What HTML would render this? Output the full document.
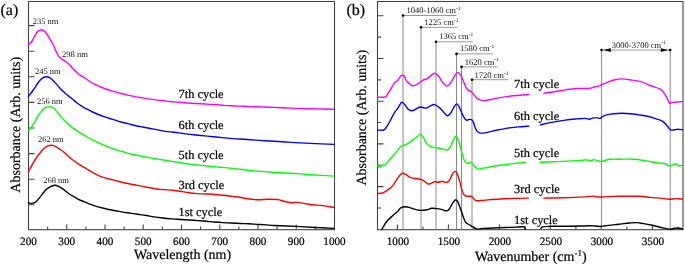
<!DOCTYPE html>
<html><head><meta charset="utf-8"><style>
html,body{margin:0;padding:0;background:#fff;}
body{width:685px;height:265px;overflow:hidden;}
svg{display:block;will-change:transform;}
text{font-family:"Liberation Serif",serif;fill:#000;stroke:#000;stroke-width:0.2px;text-rendering:geometricPrecision;}
text.s{stroke:none;fill:#111;}
</style></head><body>
<svg width="685" height="265" viewBox="0 0 685 265">
<rect width="685" height="265" fill="#fff"/>
<rect x="28.5" y="1.5" width="306" height="228.2" fill="none" stroke="#444" stroke-width="1.1"/>
<path d="M47.62 229.5V226.5M66.75 229.5V224.5M85.88 229.5V226.5M105 229.5V224.5M124.12 229.5V226.5M143.25 229.5V224.5M162.38 229.5V226.5M181.5 229.5V224.5M200.62 229.5V226.5M219.75 229.5V224.5M238.88 229.5V226.5M258 229.5V224.5M277.12 229.5V226.5M296.25 229.5V224.5M315.38 229.5V226.5M28.5 25.6H34.5M28.5 51.2H34.5M28.5 76.8H34.5M28.5 102.4H34.5M28.5 128H34.5M28.5 153.6H34.5M28.5 179.2H34.5M28.5 204.8H34.5" stroke="#444" stroke-width="1.1" fill="none"/>
<rect x="377.5" y="1.5" width="305.5" height="228.2" fill="none" stroke="#444" stroke-width="1.1"/>
<path d="M397.4 229.5V224.5M422.9 229.5V226.5M448.4 229.5V224.5M473.9 229.5V226.5M499.4 229.5V224.5M524.9 229.5V226.5M550.4 229.5V224.5M575.9 229.5V226.5M601.4 229.5V224.5M626.9 229.5V226.5M652.4 229.5V224.5M677.9 229.5V226.5M377.5 15.8H383.5M377.5 37.15H381M377.5 58.5H383.5M377.5 79.85H381M377.5 101.2H383.5M377.5 122.55H381M377.5 143.9H383.5M377.5 165.25H381M377.5 186.6H383.5M377.5 207.95H381" stroke="#444" stroke-width="1.1" fill="none"/>
<path d="M403 15.5V229" stroke="#8a8a8a" stroke-width="1" fill="none"/>
<path d="M403 15.5H456.5" stroke="#999" stroke-width="1" fill="none"/>
<circle cx="403" cy="15.5" r="1.3" fill="#000"/>
<path d="M421 27.3V229" stroke="#8a8a8a" stroke-width="1" fill="none"/>
<path d="M421 27.3H457.5" stroke="#999" stroke-width="1" fill="none"/>
<circle cx="421" cy="27.3" r="1.3" fill="#000"/>
<path d="M436 41.8V229" stroke="#8a8a8a" stroke-width="1" fill="none"/>
<path d="M436 41.8H473" stroke="#999" stroke-width="1" fill="none"/>
<circle cx="436" cy="41.8" r="1.3" fill="#000"/>
<path d="M456.5 53.9V229" stroke="#8a8a8a" stroke-width="1" fill="none"/>
<path d="M456.5 53.9H493" stroke="#999" stroke-width="1" fill="none"/>
<circle cx="456.5" cy="53.9" r="1.3" fill="#000"/>
<path d="M461.5 66.9V229" stroke="#8a8a8a" stroke-width="1" fill="none"/>
<path d="M461.5 66.9H497.5" stroke="#999" stroke-width="1" fill="none"/>
<circle cx="461.5" cy="66.9" r="1.3" fill="#000"/>
<path d="M472 79.7V229" stroke="#8a8a8a" stroke-width="1" fill="none"/>
<path d="M472 79.7H508" stroke="#999" stroke-width="1" fill="none"/>
<circle cx="472" cy="79.7" r="1.3" fill="#000"/>
<path d="M601.6 50.1V229" stroke="#8a8a8a" stroke-width="1" fill="none"/>
<circle cx="601.6" cy="50.1" r="1.3" fill="#000"/>
<path d="M670.2 50.1V229" stroke="#8a8a8a" stroke-width="1" fill="none"/>
<circle cx="670.2" cy="50.1" r="1.3" fill="#000"/>
<path d="M603 50.1H669" stroke="#999" stroke-width="1" fill="none"/>
<path d="M603.3 50.1L610.8 48.2L610.8 52Z" fill="#000"/>
<path d="M668.3 50.1L660.8 48.2L660.8 52Z" fill="#000"/>
<path d="M28.5 44.5C29.05 44 30.78 42.87 31.8 41.5C32.82 40.13 33.67 37.92 34.6 36.3C35.53 34.68 36.45 32.85 37.4 31.8C38.35 30.75 39.62 30.33 40.3 30C40.98 29.67 40.88 29.65 41.5 29.8C42.12 29.95 43.1 30.2 44 30.9C44.9 31.6 45.95 32.68 46.9 34C47.85 35.32 48.93 37.5 49.7 38.8C50.47 40.1 50.82 40.6 51.5 41.8C52.18 43 53.05 44.42 53.8 46C54.55 47.58 55.25 49.7 56 51.3C56.75 52.9 57.42 54.37 58.3 55.6C59.18 56.83 60.17 57.78 61.3 58.7C62.43 59.62 63.83 60.22 65.1 61.1C66.37 61.98 67.65 62.8 68.9 64C70.15 65.2 71.23 66.85 72.6 68.3C73.97 69.75 75.67 71.43 77.1 72.7C78.53 73.97 79.77 74.93 81.2 75.9C82.63 76.87 84.02 77.4 85.7 78.5C87.38 79.6 89.42 81.37 91.3 82.5C93.18 83.63 95.12 84.43 97 85.3C98.88 86.17 100.72 86.98 102.6 87.73C104.48 88.47 106.4 89.12 108.3 89.75C110.2 90.38 112.05 90.91 114 91.5C115.95 92.09 117.73 92.68 120 93.27C122.27 93.87 125.08 94.52 127.6 95.08C130.12 95.63 132.58 96.13 135.1 96.6C137.62 97.07 140.18 97.46 142.7 97.88C145.22 98.29 147.68 98.7 150.2 99.07C152.72 99.45 155.28 99.8 157.8 100.1C160.32 100.4 163.27 100.62 165.3 100.85C167.33 101.08 167.75 101.26 170 101.5C172.25 101.74 175.88 102.04 178.8 102.3C181.72 102.56 184.58 102.84 187.5 103.05C190.42 103.26 193.38 103.41 196.3 103.57C199.22 103.74 202.08 103.88 205 104.05C207.92 104.23 210.88 104.43 213.8 104.62C216.72 104.82 219.8 105.05 222.5 105.22C225.2 105.4 227.28 105.55 230 105.7C232.72 105.85 235.88 105.97 238.8 106.1C241.72 106.23 244.58 106.36 247.5 106.48C250.42 106.59 253.38 106.68 256.3 106.78C259.22 106.87 262.08 106.95 265 107.05C267.92 107.15 270.88 107.28 273.8 107.4C276.72 107.52 279.8 107.65 282.5 107.78C285.2 107.9 287.08 108 290 108.12C292.92 108.25 295.5 108.37 300 108.5C304.5 108.63 311.33 108.77 317 108.9C322.67 109.03 331.17 109.23 334 109.3" fill="none" stroke="#ff00ff" stroke-width="1.4" stroke-linejoin="round" stroke-linecap="round"/>
<path d="M28.5 96.4C29.3 95.33 31.62 92.4 33.3 90C34.98 87.6 37.02 84.03 38.6 82C40.18 79.97 41.4 78.67 42.8 77.8C44.2 76.93 45.8 76.8 47 76.8C48.2 76.8 48.93 77.15 50 77.8C51.07 78.45 52.27 79.57 53.4 80.7C54.53 81.83 55.67 83.32 56.8 84.6C57.93 85.88 59.07 87.2 60.2 88.4C61.33 89.6 62.47 90.73 63.6 91.8C64.73 92.87 65.9 93.88 67 94.8C68.1 95.72 69.07 96.38 70.2 97.3C71.33 98.22 72.63 99.35 73.8 100.3C74.97 101.25 75.95 102.08 77.2 103C78.45 103.92 79.67 104.77 81.3 105.8C82.93 106.83 85.12 108.17 87 109.2C88.88 110.23 90.72 111.12 92.6 112C94.48 112.88 96.4 113.73 98.3 114.5C100.2 115.27 102.12 115.96 104 116.62C105.88 117.29 107.72 117.92 109.6 118.5C111.48 119.08 113.57 119.58 115.3 120.12C117.03 120.67 117.95 121.19 120 121.78C122.05 122.36 125.08 123.01 127.6 123.62C130.12 124.24 132.58 124.9 135.1 125.47C137.62 126.05 140.18 126.55 142.7 127.05C145.22 127.55 147.68 128 150.2 128.47C152.72 128.95 155.28 129.42 157.8 129.9C160.32 130.38 161.8 130.88 165.3 131.38C168.8 131.88 175.1 132.44 178.8 132.9C182.5 133.36 184.58 133.79 187.5 134.15C190.42 134.51 193.38 134.76 196.3 135.05C199.22 135.34 202.08 135.59 205 135.88C207.92 136.16 210.88 136.49 213.8 136.78C216.72 137.06 219.8 137.33 222.5 137.6C225.2 137.87 225.83 138.08 230 138.4C234.17 138.72 241.67 139.11 247.5 139.5C253.33 139.89 259.17 140.35 265 140.73C270.83 141.1 276.67 141.41 282.5 141.78C288.33 142.14 291.42 142.46 300 142.9C308.58 143.34 328.33 144.15 334 144.4" fill="none" stroke="#0000ff" stroke-width="1.4" stroke-linejoin="round" stroke-linecap="round"/>
<path d="M28.5 130.8C28.98 130.18 30.35 128.6 31.4 127.1C32.45 125.6 33.67 123.72 34.8 121.8C35.93 119.88 37.07 117.38 38.2 115.6C39.33 113.82 40.47 112.38 41.6 111.1C42.73 109.82 43.68 108.65 45 107.9C46.32 107.15 48.18 106.67 49.5 106.6C50.82 106.53 51.98 107 52.9 107.5C53.82 108 53.98 108.48 55 109.6C56.02 110.72 57.68 112.65 59 114.2C60.32 115.75 61.58 117.47 62.9 118.9C64.22 120.33 65.57 121.55 66.9 122.8C68.23 124.05 69.58 125.3 70.9 126.4C72.22 127.5 73.48 128.45 74.8 129.4C76.12 130.35 77.48 131.28 78.8 132.1C80.12 132.92 81.38 133.53 82.7 134.3C84.02 135.07 85.4 135.95 86.7 136.7C88 137.45 89 138.03 90.5 138.8C92 139.57 93.9 140.43 95.7 141.3C97.5 142.17 99.42 143.17 101.3 144.03C103.18 144.88 105.12 145.67 107 146.43C108.88 147.18 110.72 147.89 112.6 148.55C114.48 149.21 116.4 149.82 118.3 150.4C120.2 150.98 122.05 151.48 124 152.03C125.95 152.57 127.53 153.11 130 153.7C132.47 154.29 135.88 154.97 138.8 155.57C141.72 156.18 144.58 156.8 147.5 157.35C150.42 157.9 153.38 158.39 156.3 158.88C159.22 159.36 162.08 159.81 165 160.28C167.92 160.74 170.88 161.2 173.8 161.65C176.72 162.1 179.8 162.58 182.5 163C185.2 163.42 187.28 163.81 190 164.18C192.72 164.54 195.88 164.86 198.8 165.17C201.72 165.49 204.58 165.79 207.5 166.07C210.42 166.36 213.38 166.61 216.3 166.88C219.22 167.14 222.08 167.37 225 167.65C227.92 167.93 230.88 168.23 233.8 168.55C236.72 168.87 239.8 169.23 242.5 169.55C245.2 169.87 247.28 170.19 250 170.48C252.72 170.76 255.88 171.01 258.8 171.25C261.72 171.49 264.58 171.69 267.5 171.9C270.42 172.11 273.38 172.31 276.3 172.5C279.22 172.69 282.08 172.88 285 173.05C287.92 173.22 290.88 173.35 293.8 173.5C296.72 173.65 299.8 173.72 302.5 173.92C305.2 174.12 304.75 174.34 310 174.7C315.25 175.06 330 175.87 334 176.1" fill="none" stroke="#00ff00" stroke-width="1.4" stroke-linejoin="round" stroke-linecap="round"/>
<path d="M28.5 172C29.08 170.85 30.77 167.35 32 165.1C33.23 162.85 34.58 160.48 35.9 158.5C37.22 156.52 38.57 154.85 39.9 153.2C41.23 151.55 42.58 149.82 43.9 148.6C45.22 147.38 46.48 146.45 47.8 145.9C49.12 145.35 50.48 145.18 51.8 145.3C53.12 145.42 54.38 145.95 55.7 146.6C57.02 147.25 58.32 148.25 59.7 149.2C61.08 150.15 62.68 151.23 64 152.3C65.32 153.37 66.35 154.48 67.6 155.6C68.85 156.72 69.58 157.55 71.5 159C73.42 160.45 76.58 162.65 79.1 164.3C81.62 165.95 84.08 167.38 86.6 168.9C89.12 170.42 91.68 172.08 94.2 173.4C96.72 174.72 99.2 175.87 101.7 176.8C104.2 177.73 106.68 178.32 109.2 179C111.72 179.68 115 180.45 116.8 180.9C118.6 181.35 118 181.23 120 181.7C122 182.17 125.88 183.08 128.8 183.7C131.72 184.32 134.58 184.82 137.5 185.4C140.42 185.98 143.38 186.65 146.3 187.2C149.22 187.75 152.08 188.3 155 188.7C157.92 189.1 160.88 189.35 163.8 189.6C166.72 189.85 169.8 189.93 172.5 190.2C175.2 190.47 177.28 190.78 180 191.2C182.72 191.62 185.88 192.3 188.8 192.7C191.72 193.1 194.58 193.38 197.5 193.6C200.42 193.82 203.38 193.85 206.3 194C209.22 194.15 212.08 194.28 215 194.5C217.92 194.72 220.88 194.98 223.8 195.3C226.72 195.62 229.8 196.07 232.5 196.4C235.2 196.73 237.93 196.98 240 197.3C242.07 197.62 242.02 197.9 244.9 198.3C247.78 198.7 253.47 199.55 257.3 199.7C261.13 199.85 264.5 199.23 267.9 199.2C271.3 199.17 275.03 199.15 277.7 199.5C280.37 199.85 281.68 200.77 283.9 201.3C286.12 201.83 288.65 202.52 291 202.7C293.35 202.88 295.65 202.25 298 202.4C300.35 202.55 302.43 203.17 305.1 203.6C307.77 204.03 311.33 204.7 314 205C316.67 205.3 317.77 204.98 321.1 205.4C324.43 205.82 331.85 207.15 334 207.5" fill="none" stroke="#ff0000" stroke-width="1.4" stroke-linejoin="round" stroke-linecap="round"/>
<path d="M28.5 202.3C28.8 202.52 29.53 203.45 30.3 203.6C31.07 203.75 32.17 203.52 33.1 203.2C34.03 202.88 34.87 202.55 35.9 201.7C36.93 200.85 38.17 199.45 39.3 198.1C40.43 196.75 41.57 195.02 42.7 193.6C43.83 192.18 44.87 190.73 46.1 189.6C47.33 188.47 48.68 187.52 50.1 186.8C51.52 186.08 53.18 185.38 54.6 185.3C56.02 185.22 57.18 185.67 58.6 186.3C60.02 186.93 61.37 187.85 63.1 189.1C64.83 190.35 67.18 192.53 69 193.8C70.82 195.07 72.33 195.73 74 196.7C75.67 197.67 77.33 198.77 79 199.6C80.67 200.43 82.35 201 84 201.7C85.65 202.4 87.23 203.15 88.9 203.8C90.57 204.45 91.68 204.9 94 205.6C96.32 206.3 99.88 207.25 102.8 207.97C105.72 208.7 108.58 209.38 111.5 209.97C114.42 210.57 117.38 211.08 120.3 211.57C123.22 212.07 126.08 212.51 129 212.95C131.92 213.39 134.88 213.79 137.8 214.22C140.72 214.66 143.8 215.1 146.5 215.55C149.2 216 151.28 216.49 154 216.9C156.72 217.31 159.88 217.7 162.8 218.03C165.72 218.35 168.58 218.61 171.5 218.85C174.42 219.09 177.38 219.26 180.3 219.45C183.22 219.64 186.08 219.8 189 220C191.92 220.2 194.88 220.41 197.8 220.62C200.72 220.84 203.8 221.05 206.5 221.27C209.2 221.5 211.28 221.75 214 221.98C216.72 222.2 219.88 222.44 222.8 222.62C225.72 222.81 228.58 222.94 231.5 223.07C234.42 223.21 237.38 223.3 240.3 223.43C243.22 223.55 246.08 223.67 249 223.82C251.92 223.98 254.88 224.17 257.8 224.35C260.72 224.53 263.8 224.73 266.5 224.92C269.2 225.12 269.03 225.28 274 225.52C278.97 225.77 289.33 226.07 296.3 226.4C303.27 226.73 309.52 227.14 315.8 227.47C322.08 227.81 330.97 228.25 334 228.4" fill="none" stroke="#000000" stroke-width="1.4" stroke-linejoin="round" stroke-linecap="round"/>
<path d="M377.5 97C378.8 97 383.57 97.6 385.3 97C387.03 96.4 387.02 94.67 387.9 93.4C388.78 92.13 389.72 90.83 390.6 89.4C391.48 87.97 392.43 86 393.2 84.8C393.97 83.6 394.53 82.82 395.2 82.2C395.87 81.58 396.53 81.77 397.2 81.1C397.87 80.43 398.55 79.12 399.2 78.2C399.85 77.28 400.45 76.07 401.1 75.6C401.75 75.13 402.55 75.3 403.1 75.4C403.65 75.5 403.85 75.28 404.4 76.2C404.95 77.12 405.62 79.68 406.4 80.9C407.18 82.12 408.1 82.7 409.1 83.5C410.1 84.3 411.3 85.43 412.4 85.7C413.5 85.97 414.5 85.62 415.7 85.1C416.9 84.58 418.38 83.43 419.6 82.6C420.82 81.77 421.8 80.72 423 80.1C424.2 79.48 425.53 79.6 426.8 78.9C428.07 78.2 429.35 76.83 430.6 75.9C431.85 74.97 433.05 73.35 434.3 73.3C435.55 73.25 437.15 74.78 438.1 75.6C439.05 76.42 439.13 76.93 440 78.2C440.87 79.47 442.08 81.88 443.3 83.2C444.52 84.52 446.08 86.1 447.3 86.1C448.52 86.1 449.5 84.68 450.6 83.2C451.7 81.72 452.92 78.85 453.9 77.2C454.88 75.55 455.73 74.02 456.5 73.3C457.27 72.58 457.83 72.68 458.5 72.9C459.17 73.12 459.73 73.33 460.5 74.6C461.27 75.87 462.22 78.42 463.1 80.5C463.98 82.58 464.92 85.45 465.8 87.1C466.68 88.75 467.53 89.68 468.4 90.4C469.27 91.12 470.23 90.85 471 91.4C471.77 91.95 472.33 92.92 473 93.7C473.67 94.48 474.15 95.18 475 96.1C475.85 97.02 476.67 98.45 478.1 99.2C479.53 99.95 481.27 100.6 483.6 100.6C485.93 100.6 489.12 99.73 492.1 99.2C495.08 98.67 498.35 97.93 501.5 97.4C504.65 96.87 506.45 96.48 511 96C515.55 95.52 525.83 94.75 528.8 94.5" fill="none" stroke="#ff00ff" stroke-width="1.4" stroke-linejoin="round" stroke-linecap="round"/>
<path d="M543.9 93.3C546.58 92.88 555.73 91.47 560 90.8C564.27 90.13 566.35 89.7 569.5 89.3C572.65 88.9 575.6 88.55 578.9 88.4C582.2 88.25 586.78 88.63 589.3 88.4C591.82 88.17 592.42 87.38 594 87C595.58 86.62 597.8 86.33 598.8 86.1C599.8 85.87 599.53 85.85 600 85.6C600.47 85.35 600.38 85.15 601.6 84.6C602.82 84.05 605.1 83.1 607.3 82.3C609.5 81.5 612.28 80.37 614.8 79.8C617.32 79.23 619.95 78.9 622.4 78.9C624.85 78.9 626.43 79.33 629.5 79.8C632.57 80.27 637.35 80.75 640.8 81.7C644.25 82.65 646.9 84.23 650.2 85.5C653.5 86.77 658.07 87.72 660.6 89.3C663.13 90.88 663.92 92.72 665.4 95C666.88 97.28 668.4 101.75 669.5 103C670.6 104.25 669.83 102.73 672 102.5C674.17 102.27 680.75 101.75 682.5 101.6" fill="none" stroke="#ff00ff" stroke-width="1.4" stroke-linejoin="round" stroke-linecap="round"/>
<path d="M377.5 130C378.55 130 382.25 130.55 383.8 130C385.35 129.45 385.67 128.38 386.8 126.7C387.93 125.02 389.35 122.22 390.6 119.9C391.85 117.58 393.05 114.82 394.3 112.8C395.55 110.78 396.97 109.47 398.1 107.8C399.23 106.13 400.35 103.68 401.1 102.8C401.85 101.92 401.97 102.17 402.6 102.5C403.23 102.83 404.02 103.73 404.9 104.8C405.78 105.87 406.77 107.9 407.9 108.9C409.03 109.9 410.43 110.73 411.7 110.8C412.97 110.87 414.12 109.93 415.5 109.3C416.88 108.67 418.55 107.23 420 107C421.45 106.77 423.03 107.73 424.2 107.9C425.37 108.07 425.9 108.38 427 108C428.1 107.62 429.55 106.17 430.8 105.6C432.05 105.03 433.08 104.28 434.5 104.6C435.92 104.92 437.72 106.18 439.3 107.5C440.88 108.82 442.67 111.12 444 112.5C445.33 113.88 446.2 115.68 447.3 115.8C448.4 115.92 449.5 114.63 450.6 113.2C451.7 111.77 452.92 108.75 453.9 107.2C454.88 105.65 455.73 104.15 456.5 103.9C457.27 103.65 457.73 104.48 458.5 105.7C459.27 106.92 460.22 109.28 461.1 111.2C461.98 113.12 462.92 115.7 463.8 117.2C464.68 118.7 465.52 119.83 466.4 120.2C467.28 120.57 468.22 119.47 469.1 119.4C469.98 119.33 470.93 119.18 471.7 119.8C472.47 120.42 473.12 121.78 473.7 123.1C474.28 124.42 474.68 126.42 475.2 127.7C475.72 128.98 476.17 129.98 476.8 130.8C477.43 131.62 477.87 132.22 479 132.6C480.13 132.98 481.33 133.35 483.6 133.1C485.87 132.85 488.58 131.93 492.6 131.1C496.62 130.27 503.42 128.8 507.7 128.1C511.98 127.4 514.78 127.23 518.3 126.9C521.82 126.57 527.05 126.23 528.8 126.1" fill="none" stroke="#0000ff" stroke-width="1.4" stroke-linejoin="round" stroke-linecap="round"/>
<path d="M540.3 124.9C541.93 124.52 545.95 123.4 550.1 122.6C554.25 121.8 560.68 120.72 565.2 120.1C569.72 119.48 573.93 119.18 577.2 118.9C580.47 118.62 582.78 118.35 584.8 118.4C586.82 118.45 588.05 119.25 589.3 119.2C590.55 119.15 591.05 118.37 592.3 118.1C593.55 117.83 595.53 117.55 596.8 117.6C598.07 117.65 599.02 118.52 599.9 118.4C600.78 118.28 601.1 117.45 602.1 116.9C603.1 116.35 604 115.63 605.9 115.1C607.8 114.57 610.82 114.02 613.5 113.7C616.18 113.38 619.17 113.2 622 113.2C624.83 113.2 627.67 113.42 630.5 113.7C633.33 113.98 636.18 114.48 639 114.9C641.82 115.32 644.58 115.55 647.4 116.2C650.22 116.85 653.35 117.95 655.9 118.8C658.45 119.65 660.85 120.17 662.7 121.3C664.55 122.43 665.72 124.18 667 125.6C668.28 127.02 669.13 129.1 670.4 129.8C671.67 130.5 673.47 129.88 674.6 129.8C675.73 129.72 675.88 129.3 677.2 129.3C678.52 129.3 681.62 129.72 682.5 129.8" fill="none" stroke="#0000ff" stroke-width="1.4" stroke-linejoin="round" stroke-linecap="round"/>
<path d="M377.5 165.6C377.88 165.82 378.93 167 379.8 166.9C380.67 166.8 381.75 165.38 382.7 165C383.65 164.62 384.25 165.6 385.5 164.6C386.75 163.6 388.47 161.03 390.2 159C391.93 156.97 394.17 154.45 395.9 152.4C397.63 150.35 399.35 147.87 400.6 146.7C401.85 145.53 402.3 145.87 403.4 145.4C404.5 144.93 405.63 144.78 407.2 143.9C408.77 143.02 411.07 141.37 412.8 140.1C414.53 138.83 416.33 137.3 417.6 136.3C418.87 135.3 419.47 133.93 420.4 134.1C421.33 134.27 422.1 135.67 423.2 137.3C424.3 138.93 425.73 142.33 427 143.9C428.27 145.47 429.38 146.08 430.8 146.7C432.22 147.32 433.77 147.28 435.5 147.6C437.23 147.92 439.62 148.25 441.2 148.6C442.78 148.95 444.05 149.45 445 149.7C445.95 149.95 446.27 150.22 446.9 150.1C447.53 149.98 448.17 149.65 448.8 149C449.43 148.35 450.08 147.38 450.7 146.2C451.32 145.02 451.88 143.32 452.5 141.9C453.12 140.48 453.85 138.65 454.4 137.7C454.95 136.75 455.32 136.2 455.8 136.2C456.28 136.2 456.82 136.83 457.3 137.7C457.78 138.57 458.23 139.98 458.7 141.4C459.17 142.82 459.63 144.55 460.1 146.2C460.57 147.85 461.1 149.82 461.5 151.3C461.9 152.78 461.97 153.45 462.5 155.1C463.03 156.75 463.85 159.83 464.7 161.2C465.55 162.57 466.5 163.1 467.6 163.3C468.7 163.5 470.2 161.93 471.3 162.4C472.4 162.87 473.25 165.08 474.2 166.1C475.15 167.12 476.2 168 477 168.5C477.8 169 477.65 169.2 479 169.1C480.35 169 481.57 168.53 485.1 167.9C488.63 167.27 495.18 166.05 500.2 165.3C505.22 164.55 510.98 163.9 515.2 163.4C519.42 162.9 523.78 162.48 525.5 162.3" fill="none" stroke="#00ff00" stroke-width="1.4" stroke-linejoin="round" stroke-linecap="round"/>
<path d="M540.1 162.3C543.02 162.18 550.92 161.92 557.6 161.6C564.28 161.28 575.42 160.68 580.2 160.4C584.98 160.12 584.53 159.87 586.3 159.9C588.07 159.93 589.55 160.65 590.8 160.6C592.05 160.55 592.8 159.63 593.8 159.6C594.8 159.57 595.67 160.07 596.8 160.4C597.93 160.73 599.33 161.55 600.6 161.6C601.87 161.65 602.83 161.08 604.4 160.7C605.97 160.32 607.38 159.55 610 159.3C612.62 159.05 615.9 159.2 620.1 159.2C624.3 159.2 630.67 158.98 635.2 159.3C639.73 159.62 643.53 160.5 647.3 161.1C651.07 161.7 654.78 162.45 657.8 162.9C660.82 163.35 663.63 163.33 665.4 163.8C667.17 164.27 667.4 165.43 668.4 165.7C669.4 165.97 670.13 165.72 671.4 165.4C672.67 165.08 674.87 163.75 676 163.8C677.13 163.85 677.12 165.43 678.2 165.7C679.28 165.97 681.78 165.45 682.5 165.4" fill="none" stroke="#00ff00" stroke-width="1.4" stroke-linejoin="round" stroke-linecap="round"/>
<path d="M377.5 193.6C378.37 193.5 381.05 193.57 382.7 193C384.35 192.43 385.83 191.3 387.4 190.2C388.97 189.1 390.68 187.97 392.1 186.4C393.52 184.83 394.65 182.62 395.9 180.8C397.15 178.98 398.5 176.77 399.6 175.5C400.7 174.23 401.4 173.33 402.5 173.2C403.6 173.07 404.95 174 406.2 174.7C407.45 175.4 408.58 176.77 410 177.4C411.42 178.03 412.97 178.2 414.7 178.5C416.43 178.8 418.82 178.77 420.4 179.2C421.98 179.63 423.1 180.4 424.2 181.1C425.3 181.8 426.07 182.92 427 183.4C427.93 183.88 428.55 184.28 429.8 184C431.05 183.72 433.08 181.98 434.5 181.7C435.92 181.42 437.03 182.37 438.3 182.3C439.57 182.23 440.98 181.32 442.1 181.3C443.22 181.28 444.12 182.05 445 182.2C445.88 182.35 446.7 182.47 447.4 182.2C448.1 181.93 448.58 181.5 449.2 180.6C449.82 179.7 450.47 178.05 451.1 176.8C451.73 175.55 452.45 173.95 453 173.1C453.55 172.25 454 171.97 454.4 171.7C454.8 171.43 455 171.35 455.4 171.5C455.8 171.65 456.33 171.78 456.8 172.6C457.27 173.42 457.73 174.98 458.2 176.4C458.67 177.82 459.13 179.45 459.6 181.1C460.07 182.75 460.6 184.8 461 186.3C461.4 187.8 461.53 188.73 462 190.1C462.47 191.47 463.03 193.47 463.8 194.5C464.57 195.53 465.35 195.98 466.6 196.3C467.85 196.62 470.03 195.92 471.3 196.4C472.57 196.88 473.28 198.47 474.2 199.2C475.12 199.93 474.98 200.65 476.8 200.8C478.62 200.95 481.2 200.4 485.1 200.1C489 199.8 495.18 199.28 500.2 199C505.22 198.72 510.48 198.55 515.2 198.4C519.92 198.25 526.28 198.15 528.5 198.1" fill="none" stroke="#ff0000" stroke-width="1.4" stroke-linejoin="round" stroke-linecap="round"/>
<path d="M543.9 198.1C547.02 198.05 555.72 198 562.6 197.8C569.48 197.6 580.05 197.18 585.2 196.9C590.35 196.62 591.48 196.08 593.5 196.1C595.52 196.12 595.92 196.85 597.3 197C598.68 197.15 600.02 197.07 601.8 197C603.58 196.93 604.95 196.72 608 196.6C611.05 196.48 614.82 196.35 620.1 196.3C625.38 196.25 634.67 196.12 639.7 196.3C644.73 196.48 646.52 197.05 650.3 197.4C654.08 197.75 659.25 198.08 662.4 198.4C665.55 198.72 666.93 199.27 669.2 199.3C671.47 199.33 673.78 198.62 676 198.6C678.22 198.58 681.42 199.1 682.5 199.2" fill="none" stroke="#ff0000" stroke-width="1.4" stroke-linejoin="round" stroke-linecap="round"/>
<path d="M381.8 229.5C382.58 228.2 384.65 224.05 386.5 221.7C388.35 219.35 391.05 217.12 392.9 215.4C394.75 213.68 396.28 212.67 397.6 211.4C398.92 210.13 399.47 208.58 400.8 207.8C402.13 207.02 404.02 206.7 405.6 206.7C407.18 206.7 408.72 207.35 410.3 207.8C411.88 208.25 413.63 208.98 415.1 209.4C416.57 209.82 417.78 210.15 419.1 210.3C420.42 210.45 421.68 210.38 423 210.3C424.32 210.22 425.53 210.13 427 209.8C428.47 209.47 430.22 208.5 431.8 208.3C433.38 208.1 434.92 208.42 436.5 208.6C438.08 208.78 439.8 209.03 441.3 209.4C442.8 209.77 444.48 210.6 445.5 210.8C446.52 211 446.78 210.87 447.4 210.6C448.02 210.33 448.58 209.98 449.2 209.2C449.82 208.42 450.47 207 451.1 205.9C451.73 204.8 452.37 203.55 453 202.6C453.63 201.65 454.43 200.67 454.9 200.2C455.37 199.73 455.4 199.68 455.8 199.8C456.2 199.92 456.82 200.2 457.3 200.9C457.78 201.6 458.23 202.85 458.7 204C459.17 205.15 459.63 206.53 460.1 207.8C460.57 209.07 461.03 210.27 461.5 211.6C461.97 212.93 462.43 214.47 462.9 215.8C463.37 217.13 463.8 218.48 464.3 219.6C464.8 220.72 464.97 221.57 465.9 222.5C466.83 223.43 468.45 224.32 469.9 225.2C471.35 226.08 473.27 227.15 474.6 227.8C475.93 228.45 476.47 229 477.9 229.1C479.33 229.2 479.67 228.63 483.2 228.4C486.73 228.17 494.7 227.87 499.1 227.7C503.5 227.53 506.45 227.52 509.6 227.4C512.75 227.28 515.93 227.1 518 227C520.07 226.9 521.02 226.85 522 226.8C522.98 226.75 523.4 226.6 523.9 226.7C524.4 226.8 524.77 226.95 525 227.4C525.23 227.85 525.25 229.07 525.3 229.4" fill="none" stroke="#000000" stroke-width="1.4" stroke-linejoin="round" stroke-linecap="round"/>
<path d="M540.9 228.3C541.07 228.12 541.32 227.48 541.9 227.2C542.48 226.92 542.72 226.75 544.4 226.6C546.08 226.45 547.9 226.37 552 226.3C556.1 226.23 562.77 226.3 569 226.2C575.23 226.1 585.07 225.73 589.4 225.7C593.73 225.67 592.93 225.87 595 226C597.07 226.13 600.1 226.55 601.8 226.5C603.5 226.45 602.4 226.08 605.2 225.7C608 225.32 614.5 224.65 618.6 224.2C622.7 223.75 626.7 223.27 629.8 223C632.9 222.73 634.93 222.5 637.2 222.6C639.47 222.7 640.92 223.17 643.4 223.6C645.88 224.03 649 224.52 652.1 225.2C655.2 225.88 659 227.03 662 227.7C665 228.37 668.03 229.1 670.1 229.2C672.17 229.3 672.85 228.47 674.4 228.3C675.95 228.13 678.05 228.08 679.4 228.2C680.75 228.32 681.98 228.87 682.5 229" fill="none" stroke="#000000" stroke-width="1.4" stroke-linejoin="round" stroke-linecap="round"/>
<text x="0.5" y="15" font-size="16" text-anchor="start">(a)</text>
<text x="346.5" y="15" font-size="16" text-anchor="start">(b)</text>
<text x="28.5" y="244.8" font-size="11.2" text-anchor="middle">200</text>
<text x="66.75" y="244.8" font-size="11.2" text-anchor="middle">300</text>
<text x="105" y="244.8" font-size="11.2" text-anchor="middle">400</text>
<text x="143.25" y="244.8" font-size="11.2" text-anchor="middle">500</text>
<text x="181.5" y="244.8" font-size="11.2" text-anchor="middle">600</text>
<text x="219.75" y="244.8" font-size="11.2" text-anchor="middle">700</text>
<text x="258" y="244.8" font-size="11.2" text-anchor="middle">800</text>
<text x="296.25" y="244.8" font-size="11.2" text-anchor="middle">900</text>
<text x="334.5" y="244.8" font-size="11.2" text-anchor="middle">1000</text>
<text x="182.5" y="259.2" font-size="14" text-anchor="middle">Wavelength (nm)</text>
<text x="397.9" y="244.8" font-size="11.2" text-anchor="middle">1000</text>
<text x="448.9" y="244.8" font-size="11.2" text-anchor="middle">1500</text>
<text x="499.9" y="244.8" font-size="11.2" text-anchor="middle">2000</text>
<text x="550.9" y="244.8" font-size="11.2" text-anchor="middle">2500</text>
<text x="601.9" y="244.8" font-size="11.2" text-anchor="middle">3000</text>
<text x="652.9" y="244.8" font-size="11.2" text-anchor="middle">3500</text>
<text x="530.8" y="260.7" font-size="14" text-anchor="middle">Wavenumber (cm<tspan font-size="9" dy="-5">-1</tspan><tspan dy="5">)</tspan></text>
<text transform="translate(19.5 124.8) rotate(-90)" font-size="14" text-anchor="middle">Absorbance (Arb. units)</text>
<text transform="translate(365.6 117.75) rotate(-90)" font-size="14" text-anchor="middle">Absorbance (Arb. units)</text>
<text x="32.7" y="24.1" font-size="8.5" text-anchor="start" class="s">235 nm</text>
<text x="62.1" y="57" font-size="8.5" text-anchor="start" class="s">298 nm</text>
<text x="34.9" y="73.9" font-size="8.5" text-anchor="start" class="s">245 nm</text>
<text x="36.9" y="103.9" font-size="8.5" text-anchor="start" class="s">256 nm</text>
<text x="37.9" y="141.9" font-size="8.5" text-anchor="start" class="s">262 nm</text>
<text x="43.2" y="182.7" font-size="8.5" text-anchor="start" class="s">268 nm</text>
<text x="178.5" y="98.3" font-size="12.4" text-anchor="start">7th cycle</text>
<text x="178.5" y="128.8" font-size="12.4" text-anchor="start">6th cycle</text>
<text x="178.5" y="158.8" font-size="12.4" text-anchor="start">5th cycle</text>
<text x="178.5" y="188.6" font-size="12.4" text-anchor="start">3rd cycle</text>
<text x="178.5" y="216" font-size="12.4" text-anchor="start">1st cycle</text>
<text x="514.1" y="88.1" font-size="12.4" text-anchor="start">7th cycle</text>
<text x="514.1" y="119.8" font-size="12.4" text-anchor="start">6th cycle</text>
<text x="514.1" y="157" font-size="12.4" text-anchor="start">5th cycle</text>
<text x="514.1" y="193.2" font-size="12.4" text-anchor="start">3rd cycle</text>
<text x="514.1" y="223.6" font-size="12.4" text-anchor="start">1st cycle</text>
<text class="s" x="406.6" y="12.9" font-size="8.5">1040-1060 cm<tspan font-size="5.5" dy="-3.2">-1</tspan></text>
<text class="s" x="424.3" y="25.4" font-size="8.5">1225 cm<tspan font-size="5.5" dy="-3.2">-1</tspan></text>
<text class="s" x="439.2" y="39.3" font-size="8.5">1365 cm<tspan font-size="5.5" dy="-3.2">-1</tspan></text>
<text class="s" x="460.1" y="51.4" font-size="8.5">1580 cm<tspan font-size="5.5" dy="-3.2">-1</tspan></text>
<text class="s" x="464.8" y="64.5" font-size="8.5">1620 cm<tspan font-size="5.5" dy="-3.2">-1</tspan></text>
<text class="s" x="474.4" y="77.7" font-size="8.5">1720 cm<tspan font-size="5.5" dy="-3.2">-1</tspan></text>
<text class="s" x="611.8" y="47.5" font-size="8.5">3000-3700 cm<tspan font-size="5.5" dy="-3.2">-1</tspan></text>
</svg>
</body></html>
